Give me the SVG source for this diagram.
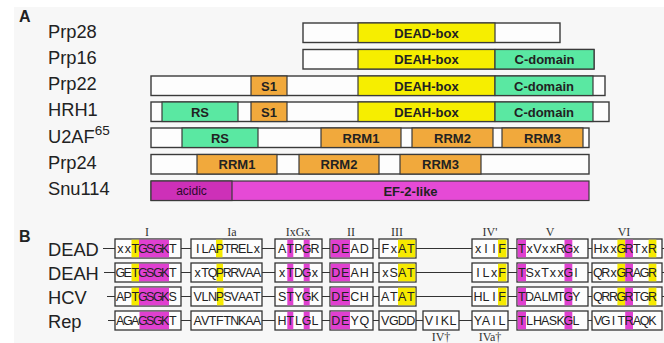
<svg xmlns="http://www.w3.org/2000/svg" width="664" height="343" viewBox="0 0 664 343">
<style>
.lbl{font-family:"Liberation Sans",Arial,sans-serif;font-size:18.3px;fill:#222}
.sec{font-family:"Liberation Sans",Arial,sans-serif;font-size:16px;font-weight:bold;fill:#222}
.bar{fill:#fdfdfd;stroke:#3a3a3a;stroke-width:1.4}
.seg{stroke:#3a3a3a;stroke-width:1.2}
.y{fill:#f6ee00}.g{fill:#5ae8a2}.o{fill:#f1a93c}.m{fill:#e64ad6}.dm{fill:#cd30b8}
.bt{font-family:"Liberation Sans",Arial,sans-serif;font-size:13px;font-weight:bold;fill:#222;text-anchor:middle}
.box{fill:#fdfdfd;stroke:#333;stroke-width:1.3}
.hy{fill:#f6ea00}.hm{fill:#e040d0}
.sq{font-family:"Liberation Sans",Arial,sans-serif;font-size:12.5px;fill:#222;text-anchor:middle}
.mt{font-family:"Liberation Serif","Times New Roman",serif;font-size:12px;fill:#333333;text-anchor:middle}
.cn line{stroke:#333;stroke-width:1}
</style>
<rect x="14" y="7" width="650" height="336" fill="#f7f7f7"/>
<text class="sec" x="19" y="22">A</text>
<text class="sec" x="19" y="242">B</text>

<g id="prp28">
<text class="lbl" x="48" y="38">Prp28</text>
<rect class="bar" x="303" y="23" width="257" height="19.5"/>
<rect class="y seg" x="358" y="23" width="137" height="19.5"/>
<text class="bt" x="426.5" y="37.5">DEAD-box</text>
</g>
<g id="prp16">
<text class="lbl" x="48" y="64">Prp16</text>
<rect class="bar" x="303" y="49.5" width="291" height="19.5"/>
<rect class="y seg" x="358" y="49.5" width="137" height="19.5"/>
<rect class="g seg" x="495" y="49.5" width="99" height="19.5"/>
<text class="bt" x="426.5" y="64">DEAH-box</text>
<text class="bt" x="544.5" y="64">C-domain</text>
</g>
<g id="prp22">
<text class="lbl" x="48" y="90">Prp22</text>
<rect class="bar" x="151" y="76" width="454" height="19.5"/>
<rect class="o seg" x="251" y="76" width="36" height="19.5"/>
<rect class="y seg" x="358" y="76" width="137" height="19.5"/>
<rect class="g seg" x="495" y="76" width="98" height="19.5"/>
<text class="bt" x="269" y="90.5">S1</text>
<text class="bt" x="426.5" y="90.5">DEAH-box</text>
<text class="bt" x="544" y="90.5">C-domain</text>
</g>
<g id="hrh1">
<text class="lbl" x="48" y="116">HRH1</text>
<rect class="bar" x="151" y="102" width="458" height="19.5"/>
<rect class="g seg" x="162" y="102" width="76" height="19.5"/>
<rect class="o seg" x="251" y="102" width="36" height="19.5"/>
<rect class="y seg" x="358" y="102" width="137" height="19.5"/>
<rect class="g seg" x="495" y="102" width="98" height="19.5"/>
<text class="bt" x="200" y="116.5">RS</text>
<text class="bt" x="269" y="116.5">S1</text>
<text class="bt" x="426.5" y="116.5">DEAH-box</text>
<text class="bt" x="544" y="116.5">C-domain</text>
</g>
<g id="u2af65">
<text class="lbl" x="48" y="143">U2AF<tspan font-size="13.5" dy="-8">65</tspan></text>
<rect class="bar" x="151" y="128" width="438" height="19.5"/>
<rect class="g seg" x="182" y="128" width="76" height="19.5"/>
<rect class="o seg" x="321" y="128" width="80" height="19.5"/>
<rect class="o seg" x="412" y="128" width="81" height="19.5"/>
<rect class="o seg" x="502" y="128" width="81" height="19.5"/>
<text class="bt" x="220" y="142.5">RS</text>
<text class="bt" x="361" y="142.5">RRM1</text>
<text class="bt" x="452.5" y="142.5">RRM2</text>
<text class="bt" x="542.5" y="142.5">RRM3</text>
</g>
<g id="prp24">
<text class="lbl" x="48" y="169">Prp24</text>
<rect class="bar" x="151" y="154.5" width="438" height="19.5"/>
<rect class="o seg" x="197" y="154.5" width="80" height="19.5"/>
<rect class="o seg" x="299" y="154.5" width="80" height="19.5"/>
<rect class="o seg" x="400" y="154.5" width="81" height="19.5"/>
<text class="bt" x="237" y="169">RRM1</text>
<text class="bt" x="339" y="169">RRM2</text>
<text class="bt" x="440.5" y="169">RRM3</text>
</g>
<g id="snu114">
<text class="lbl" x="48" y="195">Snu114</text>
<rect class="m seg" x="151" y="181" width="438" height="19.5"/>
<rect class="dm seg" x="151" y="181" width="81" height="19.5"/>
<text x="191.5" y="195" font-family="Liberation Sans,Arial,sans-serif" font-size="12" fill="#2a0a2a" text-anchor="middle">acidic</text>
<text class="bt" x="410.5" y="195.5" fill="#2a0a2a">EF-2-like</text>
</g>

<g id="motif-labels">
<text class="mt" x="147" y="236">I</text>
<text class="mt" x="232" y="236">Ia</text>
<text class="mt" x="298" y="236">IxGx</text>
<text class="mt" x="351" y="236">II</text>
<text class="mt" x="397" y="236">III</text>
<text class="mt" x="490" y="236">IV'</text>
<text class="mt" x="550" y="236">V</text>
<text class="mt" x="624" y="236">VI</text>
<text class="mt" x="441" y="341">IV†</text>
<text class="mt" x="490" y="341">IVa†</text>
</g>

<g id="connectors" class="cn">
<line x1="103" y1="248.5" x2="115" y2="248.5"/><line x1="181" y1="248.5" x2="191" y2="248.5"/><line x1="262" y1="248.5" x2="275" y2="248.5"/><line x1="322" y1="248.5" x2="330" y2="248.5"/><line x1="373" y1="248.5" x2="379" y2="248.5"/><line x1="416" y1="248.5" x2="472" y2="248.5"/><line x1="508" y1="248.5" x2="517" y2="248.5"/><line x1="588" y1="248.5" x2="592" y2="248.5"/><line x1="662" y1="248.5" x2="664" y2="248.5"/>
<line x1="104" y1="272.5" x2="115" y2="272.5"/><line x1="181" y1="272.5" x2="191" y2="272.5"/><line x1="262" y1="272.5" x2="275" y2="272.5"/><line x1="322" y1="272.5" x2="330" y2="272.5"/><line x1="373" y1="272.5" x2="379" y2="272.5"/><line x1="416" y1="272.5" x2="472" y2="272.5"/><line x1="508" y1="272.5" x2="517" y2="272.5"/><line x1="588" y1="272.5" x2="592" y2="272.5"/><line x1="662" y1="272.5" x2="664" y2="272.5"/>
<line x1="107" y1="296.5" x2="115" y2="296.5"/><line x1="181" y1="296.5" x2="191" y2="296.5"/><line x1="262" y1="296.5" x2="275" y2="296.5"/><line x1="322" y1="296.5" x2="330" y2="296.5"/><line x1="373" y1="296.5" x2="379" y2="296.5"/><line x1="416" y1="296.5" x2="472" y2="296.5"/><line x1="508" y1="296.5" x2="517" y2="296.5"/><line x1="588" y1="296.5" x2="592" y2="296.5"/><line x1="662" y1="296.5" x2="664" y2="296.5"/>
<line x1="108" y1="320.5" x2="115" y2="320.5"/><line x1="181" y1="320.5" x2="191" y2="320.5"/><line x1="262" y1="320.5" x2="275" y2="320.5"/><line x1="322" y1="320.5" x2="330" y2="320.5"/><line x1="373" y1="320.5" x2="379" y2="320.5"/><line x1="416" y1="320.5" x2="423" y2="320.5"/><line x1="459" y1="320.5" x2="472" y2="320.5"/><line x1="508" y1="320.5" x2="517" y2="320.5"/><line x1="588" y1="320.5" x2="592" y2="320.5"/>
</g>

<g id="row-dead">
<text class="lbl" x="48" y="256">DEAD</text>
<rect class="box" x="115" y="239" width="66" height="19"/><rect class="box" x="191" y="239" width="71" height="19"/><rect class="box" x="275" y="239" width="47" height="19"/><rect class="box" x="330" y="239" width="43" height="19"/><rect class="box" x="379" y="239" width="37" height="19"/><rect class="box" x="472" y="239" width="36" height="19"/><rect class="box" x="517" y="239" width="71" height="19"/><rect class="box" x="592" y="239" width="70" height="19"/>
<rect class="hy" x="131.5" y="239.7" width="7.5" height="17.6"/><rect class="hm" x="139" y="239.7" width="30" height="17.6"/>
<rect class="hy" x="216" y="239.7" width="6.5" height="17.6"/>
<rect class="hm" x="287.3" y="239.7" width="6" height="17.6"/><rect class="hm" x="303.7" y="239.7" width="6" height="17.6"/>
<rect class="hm" x="330.7" y="239.7" width="19.3" height="17.6"/>
<rect class="hy" x="398" y="239.7" width="17.3" height="17.6"/>
<rect class="hy" x="498" y="239.7" width="8.5" height="17.6"/>
<rect class="hm" x="517.7" y="239.7" width="8.3" height="17.6"/><rect class="hm" x="564.5" y="239.7" width="7.8" height="17.6"/>
<rect class="hy" x="617.4" y="239.7" width="7.8" height="17.6"/><rect class="hm" x="625.2" y="239.7" width="7.8" height="17.6"/><rect class="hy" x="648.6" y="239.7" width="7.8" height="17.6"/>
<text class="sq" y="253" x="120.25 127.75 135.25 142.75 150.25 157.75 165.25 172.75">xxTGSGKT</text>
<text class="sq" y="253" x="197.7 205.1 212.5 219.9 227.3 234.7 242.1 249.5 256.9">ILAPTRELx</text>
<text class="sq" y="253" x="282.1 290.3 298.5 306.7 314.9">ATPGR</text>
<text class="sq" y="253" x="335.75 345.25 354.75 364.25">DEAD</text>
<text class="sq" y="253" x="385.25 393.75 402.25 410.75">FxAT</text>
<text class="sq" y="253" x="478 486 494 502">xIIF</text>
<text class="sq" y="253" x="521.9 529.6 537.4 545.1 552.9 560.6 568.4 576.1">TxVxxRGx</text>
<text class="sq" y="253" x="597.9 605.7 613.5 621.3 629.1 636.9 644.7 652.5">HxxGRTxR</text>
</g>

<g id="row-deah">
<text class="lbl" x="48" y="280">DEAH</text>
<rect class="box" x="115" y="263" width="66" height="19"/><rect class="box" x="191" y="263" width="71" height="19"/><rect class="box" x="275" y="263" width="47" height="19"/><rect class="box" x="330" y="263" width="43" height="19"/><rect class="box" x="379" y="263" width="37" height="19"/><rect class="box" x="472" y="263" width="36" height="19"/><rect class="box" x="517" y="263" width="71" height="19"/><rect class="box" x="592" y="263" width="70" height="19"/>
<rect class="hy" x="131.5" y="263.7" width="7.5" height="17.6"/><rect class="hm" x="139" y="263.7" width="30" height="17.6"/>
<rect class="hy" x="216.5" y="263.7" width="6.5" height="17.6"/>
<rect class="hm" x="287.3" y="263.7" width="6" height="17.6"/><rect class="hm" x="303.7" y="263.7" width="6" height="17.6"/>
<rect class="hm" x="330.7" y="263.7" width="19.3" height="17.6"/>
<rect class="hy" x="398" y="263.7" width="17.3" height="17.6"/>
<rect class="hy" x="498" y="263.7" width="8.5" height="17.6"/>
<rect class="hm" x="517.7" y="263.7" width="8.3" height="17.6"/><rect class="hm" x="564.5" y="263.7" width="7.8" height="17.6"/>
<rect class="hy" x="617.4" y="263.7" width="7.8" height="17.6"/><rect class="hm" x="625.2" y="263.7" width="7.8" height="17.6"/><rect class="hy" x="648.6" y="263.7" width="7.8" height="17.6"/>
<text class="sq" y="277" x="120.25 127.75 135.25 142.75 150.25 157.75 165.25 172.75">GETGSGKT</text>
<text class="sq" y="277" x="197.7 205.1 212.5 219.9 227.3 234.7 242.1 249.5 256.9">xTQPRRVAA</text>
<text class="sq" y="277" x="282.1 290.3 298.5 306.7 314.9">xTDGx</text>
<text class="sq" y="277" x="335.75 345.25 354.75 364.25">DEAH</text>
<text class="sq" y="277" x="385.25 393.75 402.25 410.75">xSAT</text>
<text class="sq" y="277" x="478 486 494 502">ILxF</text>
<text class="sq" y="277" x="521.9 529.6 537.4 545.1 552.9 560.6 568.4 576.1">TSxTxxGI</text>
<text class="sq" y="277" x="597.9 605.7 613.5 621.3 629.1 636.9 644.7 652.5">QRxGRAGR</text>
</g>

<g id="row-hcv">
<text class="lbl" x="48" y="304">HCV</text>
<rect class="box" x="115" y="287" width="66" height="19"/><rect class="box" x="191" y="287" width="71" height="19"/><rect class="box" x="275" y="287" width="47" height="19"/><rect class="box" x="330" y="287" width="43" height="19"/><rect class="box" x="379" y="287" width="37" height="19"/><rect class="box" x="472" y="287" width="36" height="19"/><rect class="box" x="517" y="287" width="71" height="19"/><rect class="box" x="592" y="287" width="70" height="19"/>
<rect class="hy" x="131.5" y="287.7" width="7.5" height="17.6"/><rect class="hm" x="139" y="287.7" width="30" height="17.6"/>
<rect class="hy" x="217" y="287.7" width="6.5" height="17.6"/>
<rect class="hm" x="287.3" y="287.7" width="6" height="17.6"/><rect class="hm" x="303.7" y="287.7" width="6" height="17.6"/>
<rect class="hm" x="330.7" y="287.7" width="19.3" height="17.6"/>
<rect class="hy" x="398" y="287.7" width="17.3" height="17.6"/>
<rect class="hy" x="498" y="287.7" width="8.5" height="17.6"/>
<rect class="hm" x="517.7" y="287.7" width="8.3" height="17.6"/><rect class="hm" x="564.5" y="287.7" width="7.8" height="17.6"/>
<rect class="hy" x="617.4" y="287.7" width="7.8" height="17.6"/><rect class="hm" x="625.2" y="287.7" width="7.8" height="17.6"/><rect class="hy" x="648.6" y="287.7" width="7.8" height="17.6"/>
<text class="sq" y="301" x="120.25 127.75 135.25 142.75 150.25 157.75 165.25 172.75">APTGSGKS</text>
<text class="sq" y="301" x="197.7 205.1 212.5 219.9 227.3 234.7 242.1 249.5 256.9">VLNPSVAAT</text>
<text class="sq" y="301" x="282.1 290.3 298.5 306.7 314.9">STYGK</text>
<text class="sq" y="301" x="335.75 345.25 354.75 364.25">DECH</text>
<text class="sq" y="301" x="385.25 393.75 402.25 410.75">ATAT</text>
<text class="sq" y="301" x="478 486 494 502">HLIF</text>
<text class="sq" y="301" x="521.9 529.6 537.4 545.1 552.9 560.6 568.4 576.1">TDALMTGY</text>
<text class="sq" y="301" x="597.9 605.7 613.5 621.3 629.1 636.9 644.7 652.5">QRRGRTGR</text>
</g>

<g id="row-rep">
<text class="lbl" x="48" y="328">Rep</text>
<rect class="box" x="115" y="311" width="66" height="19"/><rect class="box" x="191" y="311" width="71" height="19"/><rect class="box" x="275" y="311" width="47" height="19"/><rect class="box" x="330" y="311" width="43" height="19"/><rect class="box" x="379" y="311" width="37" height="19"/><rect class="box" x="423" y="311" width="36" height="19"/><rect class="box" x="472" y="311" width="36" height="19"/><rect class="box" x="517" y="311" width="71" height="19"/><rect class="box" x="592" y="311" width="70" height="19"/>
<rect class="hm" x="139.5" y="311.7" width="29.5" height="17.6"/>
<rect class="hm" x="287.3" y="311.7" width="6" height="17.6"/><rect class="hm" x="303.7" y="311.7" width="6" height="17.6"/>
<rect class="hm" x="330.7" y="311.7" width="19.3" height="17.6"/>
<rect class="hm" x="517.7" y="311.7" width="8.3" height="17.6"/><rect class="hm" x="564.5" y="311.7" width="7.8" height="17.6"/>
<rect class="hm" x="625.2" y="311.7" width="7.8" height="17.6"/>
<text class="sq" y="325" x="120.25 127.75 135.25 142.75 150.25 157.75 165.25 172.75">AGAGSGKT</text>
<text class="sq" y="325" x="197.7 205.1 212.5 219.9 227.3 234.7 242.1 249.5 256.9">AVTFTNKAA</text>
<text class="sq" y="325" x="282.1 290.3 298.5 306.7 314.9">HTLGL</text>
<text class="sq" y="325" x="335.75 345.25 354.75 364.25">DEYQ</text>
<text class="sq" y="325" x="385.25 393.75 402.25 410.75">VGDD</text>
<text class="sq" y="325" x="429 437 445 453">VIKL</text>
<text class="sq" y="325" x="478 486 494 502">YAIL</text>
<text class="sq" y="325" x="521.9 529.6 537.4 545.1 552.9 560.6 568.4 576.1">TLHASKGL</text>
<text class="sq" y="325" x="597.9 605.7 613.5 621.3 629.1 636.9 644.7 652.5">VGITRAQK</text>
</g>
</svg>
